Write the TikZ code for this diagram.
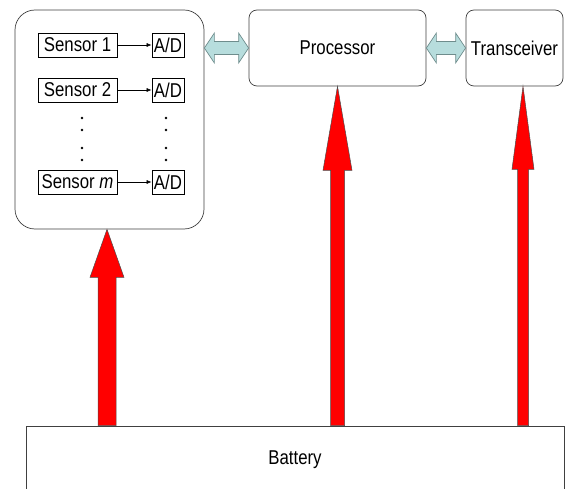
\documentclass[tikz,border=0pt]{standalone}
\usepackage{fontspec}
\setmainfont{Liberation Sans}[FakeStretch=0.84]
\usetikzlibrary{calc,arrows.meta}
\definecolor{cyanfill}{RGB}{183,221,221}
\definecolor{cyanline}{RGB}{110,140,140}
\newcommand\dfont{\fontsize{20}{23}\selectfont}
\newcommand\dblarr[2]{\draw[cyanarr] let \p1=(#1.east |- #2.west), \p2=(#2.west) in
 (\x1,\y2) -- (\x1+10pt,\y2+15pt) -- (\x1+10pt,\y2+6.5pt) -- (\x2-10pt,\y2+6.5pt) -- (\x2-10pt,\y2+15pt) -- (\x2,\y2) -- (\x2-10pt,\y2-15pt) -- (\x2-10pt,\y2-6.5pt) -- (\x1+10pt,\y2-6.5pt) -- (\x1+10pt,\y2-15pt) -- cycle;}
\newcommand\powarr[5]{\draw[redarr] let \p1=(#1,0 |- #2.south), \p2=(#1,0 |- B.north) in
 (\p1) -- (\x1+#3pt,\y1-#5pt) -- (\x1+#4pt,\y1-#5pt) -- (\x1+#4pt,\y2) -- (\x1-#4pt,\y2) -- (\x1-#4pt,\y1-#5pt) -- (\x1-#3pt,\y1-#5pt) -- cycle;}
\begin{document}
\begin{tikzpicture}[x=1pt,y=1pt,
  box/.style={draw=black!75, line width=0.7pt, fill=white, inner sep=0pt, font=\dfont},
  rbox/.style={box, rounded corners=#1},
  sbox/.style={draw=black, line width=0.7pt, inner sep=0pt, minimum height=24pt, font=\dfont},
  thinarrow/.style={-{Latex[length=5pt,width=4pt]}, line width=0.6pt},
  redarr/.style={fill=red, draw=black!70, line width=0.5pt, line join=miter},
  cyanarr/.style={fill=cyanfill, draw=cyanline, line width=0.7pt}]
\useasboundingbox (0,0) rectangle (565,-489);
\clip (0,0) rectangle (565,-489);
% main blocks
\node[rbox=20pt, minimum width=189pt, minimum height=219pt] (L) at (109.5,-119.5) {};
\node[rbox=8pt, minimum width=177pt, minimum height=76pt] (P) at (337.5,-48) {Processor};
\node[rbox=8pt, minimum width=97pt, minimum height=76pt] (T) at (514.5,-48) {Transceiver};
\node[box, minimum width=538pt, minimum height=68pt] (B) at (295,-460) {Battery};
% sensors
\node[sbox, minimum width=79pt] (s1) at (77.5,-45) {Sensor 1};
\node[sbox, minimum width=32pt] (a1) at (168,-45) {A/D};
\node[sbox, minimum width=79pt] (s2) at (77.5,-90) {Sensor 2};
\node[sbox, minimum width=32pt] (a2) at (168,-90) {A/D};
\node[sbox, minimum width=79pt] (sm) at (77.5,-182) {Sensor \textit{m}};
\node[sbox, minimum width=32pt] (am) at (168,-182) {A/D};
\draw[thinarrow] (s1) -- (a1);
\draw[thinarrow] (s2) -- (a2);
\draw[thinarrow] (sm) -- (am);
% vertical dots
\foreach \yy in {-118,-130,-148,-160}{
  \fill (82,\yy) circle (1.4);
  \fill (166,\yy) circle (1.4);
}
% data links
\dblarr{L}{P}
\dblarr{P}{T}
% power arrows
\powarr{107}{L}{17}{9}{48}
\powarr{337.5}{P}{14.5}{7}{84}
\powarr{523}{T}{11}{5.5}{83}
\end{tikzpicture}
\end{document}
